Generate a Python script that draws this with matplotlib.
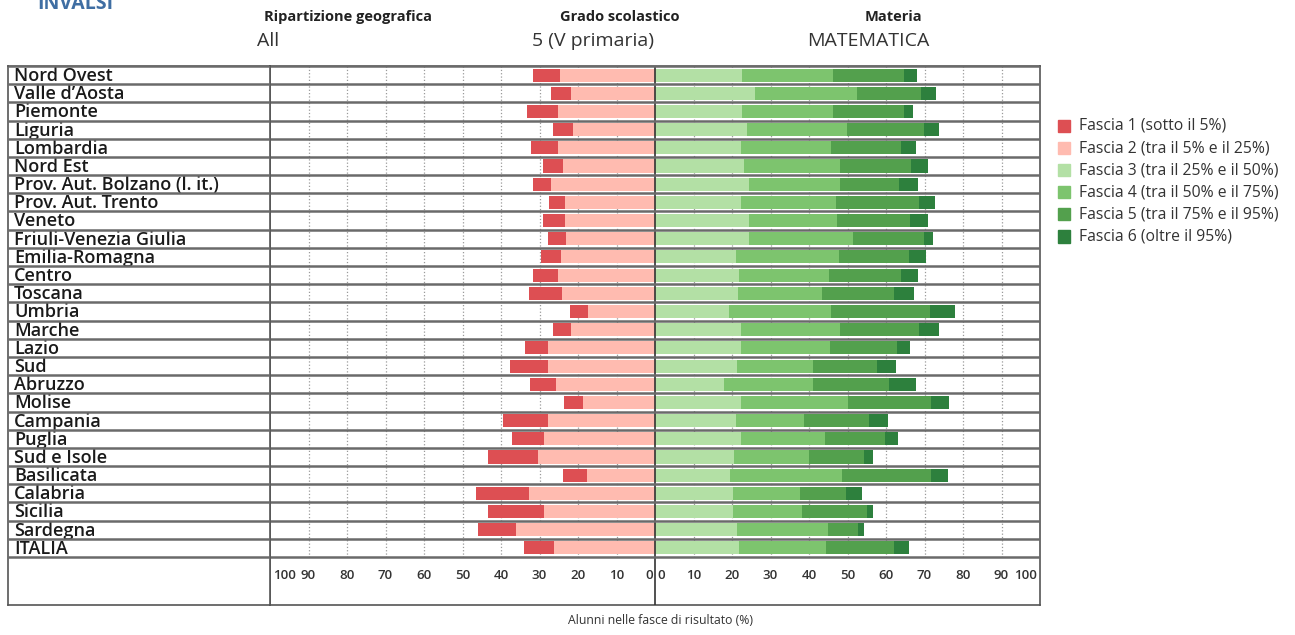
import numpy as np
import matplotlib.pyplot as plt
from matplotlib.patches import Rectangle

# Data (% of pupils per band)
regions = ['Nord Ovest', "Valle d\u2019Aosta", 'Piemonte', 'Liguria', 'Lombardia', 'Nord Est',
           'Prov. Aut. Bolzano (l. it.)', 'Prov. Aut. Trento', 'Veneto', 'Friuli-Venezia Giulia',
           'Emilia-Romagna', 'Centro', 'Toscana', 'Umbria', 'Marche', 'Lazio', 'Sud', 'Abruzzo',
           'Molise', 'Campania', 'Puglia', 'Sud e Isole', 'Basilicata', 'Calabria', 'Sicilia',
           'Sardegna', 'ITALIA']
fascia1 = [7.1, 5.2, 8.0, 5.4, 6.9, 5.2, 4.7, 4.2, 5.7, 4.6, 5.2, 6.4, 8.5,
           4.6, 4.7, 5.8, 9.9, 6.7, 5.0, 11.7, 8.2, 12.9, 6.3, 13.7, 14.4, 9.9, 7.9]
fascia2 = [24.7, 21.9, 25.2, 21.2, 25.2, 23.9, 26.9, 23.4, 23.4, 23.2, 24.5, 25.2, 24.1,
           17.5, 21.7, 27.9, 27.7, 25.7, 18.6, 27.9, 28.9, 30.4, 17.6, 32.7, 28.9, 36.2, 26.2]
fascia3 = [22.5, 26.0, 22.5, 23.9, 22.3, 23.2, 24.4, 22.3, 24.4, 24.4, 21.1, 21.8, 21.5,
           19.3, 22.3, 22.3, 21.2, 18.0, 22.3, 21.1, 22.3, 20.6, 19.5, 20.2, 20.2, 21.4, 21.7]
fascia4 = [23.7, 26.5, 23.7, 26.0, 23.4, 24.8, 23.7, 24.6, 23.0, 27.0, 26.7, 23.4, 22.0,
           26.4, 25.7, 23.2, 19.8, 23.0, 27.8, 17.7, 21.8, 19.3, 29.1, 17.5, 18.1, 23.6, 22.8]
fascia5 = [18.6, 16.6, 18.4, 19.9, 18.2, 18.5, 15.2, 21.6, 18.8, 18.4, 18.1, 18.7, 18.5,
           25.7, 20.5, 17.4, 16.7, 19.7, 21.5, 16.7, 15.6, 14.5, 23.2, 11.9, 16.8, 7.8, 17.5]
fascia6 = [3.3, 3.8, 2.4, 3.9, 4.0, 4.4, 5.0, 4.1, 4.7, 2.3, 4.4, 4.5, 5.4,
           6.5, 5.2, 3.4, 4.9, 7.2, 4.7, 5.1, 3.4, 2.2, 4.3, 4.1, 1.5, 1.4, 3.9]

legend_labels = ['Fascia 1 (sotto il 5%)', 'Fascia 2 (tra il 5% e il 25%)',
                 'Fascia 3 (tra il 25% e il 50%)', 'Fascia 4 (tra il 50% e il 75%)',
                 'Fascia 5 (tra il 75% e il 95%)', 'Fascia 6 (oltre il 95%)']
colors = ['#dd4f53', '#ffbbb0', '#b3e0a5', '#7dc46e', '#53a04d', '#2d803d']
tick_vals = [100, 90, 80, 70, 60, 50, 40, 30, 20, 10, 0]

W, H = 1295, 635
fig = plt.figure(figsize=(12.95, 6.35), dpi=100)
plt.rcParams['font.family'] = ['Open Sans', 'DejaVu Sans']

ax = fig.add_axes([270 / W, 1 - 605 / H, 770 / W, 539 / H])
lab = fig.add_axes([8 / W, 1 - 605 / H, 262 / W, 539 / H])

n = len(regions)
y = np.arange(n)
ymax = n - 0.5 + 48 / 18.19
f1 = np.array(fascia1)
f2 = np.array(fascia2)
f3 = np.array(fascia3)
f4 = np.array(fascia4)
f5 = np.array(fascia5)
f6 = np.array(fascia6)

bh = 0.72
ax.barh(y, -f2, left=0, height=bh, color=colors[1], zorder=2)
ax.barh(y, -f1, left=-f2, height=bh, color=colors[0], zorder=2)
ax.barh(y, f3, left=0, height=bh, color=colors[2], zorder=2)
ax.barh(y, f4, left=f3, height=bh, color=colors[3], zorder=2)
ax.barh(y, f5, left=f3 + f4, height=bh, color=colors[4], zorder=2)
ax.barh(y, f6, left=f3 + f4 + f5, height=bh, color=colors[5], zorder=2)

# dotted grid only in the row area
grid = [v for v in range(-90, 100, 10) if v != 0]
ax.vlines(grid, -0.5, n - 0.5, colors='#9a9a9a', linestyles=':', lw=0.9, zorder=1)
ax.vlines(0, -0.5, ymax, colors='#333333', lw=1.2, zorder=3)
for a in (ax, lab):
    a.hlines(np.arange(-0.5, n), -100 if a is ax else 0, 100 if a is ax else 1,
             colors='#6a6a6a', lw=1.8, zorder=4)
    a.set_ylim(ymax, -0.5)
    a.set_xticks([])
    a.set_yticks([])
    for s in a.spines.values():
        s.set_color('#555555')
        s.set_linewidth(1.2)
ax.set_xlim(-100, 100)
lab.set_xlim(0, 1)

# tick labels
ty = n + 0.5
tk = dict(va='center', fontsize=9.5, weight='semibold', color='#333')
for v in tick_vals:
    if v == 100:
        ax.text(-v + 0.8, ty, str(v), ha='left', **tk)
        ax.text(v - 0.8, ty, str(v), ha='right', **tk)
    elif v == 0:
        ax.text(-0.6, ty, '0', ha='right', **tk)
        ax.text(0.6, ty, '0', ha='left', **tk)
    else:
        ax.text(-v, ty, str(v), ha='center', **tk)
        ax.text(v, ty, str(v), ha='center', **tk)

# region labels
for i, r in enumerate(regions):
    lab.text(6 / 262, i + 0.05, r, ha='left', va='center', fontsize=13,
             weight='semibold', color='#1a1a1a')

# header
fig.text(37 / W, 1 - 4 / H, 'INVALSI', fontsize=14, weight='bold', color='#3f6ea3',
         ha='left', va='center')
fig.text(264 / W, 1 - 17 / H, 'Ripartizione geografica', fontsize=10.5, weight='bold',
         color='#222', ha='left', va='center')
fig.text(257 / W, 1 - 41 / H, 'All', fontsize=14, color='#333', ha='left', va='center')
fig.text(620 / W, 1 - 17 / H, 'Grado scolastico', fontsize=10.5, weight='bold',
         color='#222', ha='center', va='center')
fig.text(593 / W, 1 - 41 / H, '5 (V primaria)', fontsize=14, color='#333',
         ha='center', va='center')
fig.text(893 / W, 1 - 17 / H, 'Materia', fontsize=10.5, weight='bold',
         color='#222', ha='center', va='center')
fig.text(868 / W, 1 - 41 / H, 'MATEMATICA', fontsize=14, color='#333',
         ha='center', va='center')

fig.text(660 / W, 1 - 621 / H, 'Alunni nelle fasce di risultato (%)', fontsize=8.8,
         color='#333', ha='center', va='center')

# legend
for i, (lbl, c) in enumerate(zip(legend_labels, colors)):
    yc = 126 + i * 22.1
    fig.add_artist(Rectangle((1058 / W, 1 - (yc + 6) / H), 12 / W, 12 / H,
                             transform=fig.transFigure, color=c))
    fig.text(1079 / W, 1 - yc / H, lbl, fontsize=11.3, color='#333',
             ha='left', va='center')

fig.savefig('out.png', dpi=100, facecolor='white')
